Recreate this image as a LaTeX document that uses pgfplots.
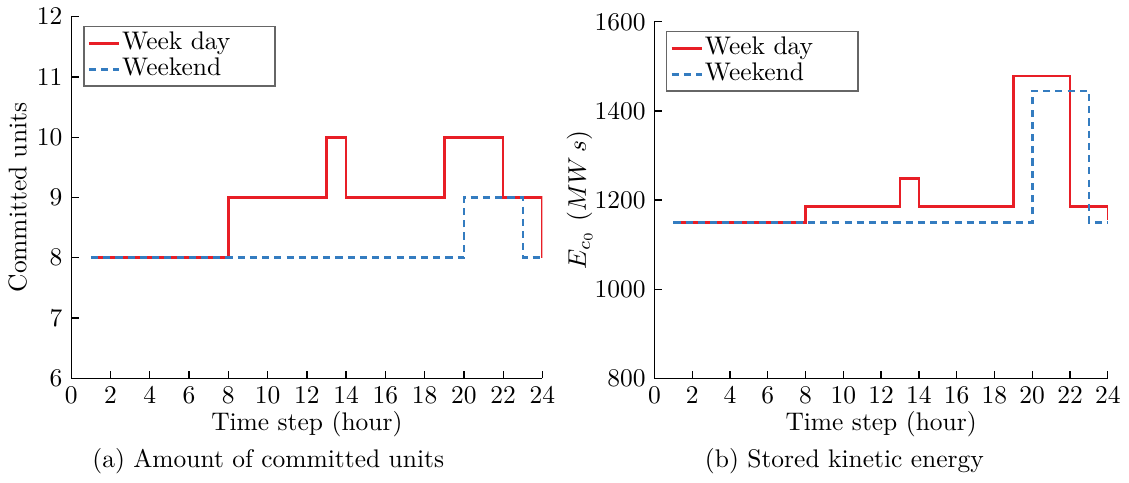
\documentclass[border=0pt]{standalone}
\usepackage{pgfplots}
\pgfplotsset{compat=1.18}
\definecolor{wdred}{RGB}{232,30,38}
\definecolor{weblue}{RGB}{52,124,192}
\begin{document}
\begin{tikzpicture}
\pgfplotsset{
  myax/.style={
    scale only axis,
    clip mode=individual,
    xmin=0, xmax=24,
    xtick={0,2,...,24},
    axis x line*=bottom, axis y line*=left,
    axis line style={-, line width=0.6pt},
    tick style={black, line width=0.5pt},
    major tick length=3pt,
    /pgf/number format/1000 sep={},
    xlabel={Time step (hour)},
    xlabel style={yshift=4pt},
    legend cell align=left,
    legend style={at={(0.025,0.975)}, anchor=north west, draw=black!60, line width=0.6pt,
      inner sep=1.5pt, row sep=0pt, font=\normalsize,
      nodes={text width=58pt, text height=7pt, text depth=2pt, inner sep=0.6pt}},
    legend image code/.code={\draw[#1] (0cm,0cm) -- (0.42cm,0cm);},
  },
  wd/.style={wdred, line width=1pt, const plot mark left},
  we/.style={weblue, line width=1pt, dash pattern=on 2.8pt off 2pt, const plot mark left},
}
\begin{axis}[myax, at={(0,0)}, width=185pt, height=142pt,
  ymin=6, ymax=12, ytick={6,7,...,12},
  ylabel={Committed units}, ylabel style={yshift=-3pt}]
\addplot[wd] coordinates {(1,8) (8,9) (13,10) (14,9) (19,10) (22,9) (24,8)};
\addlegendentry{Week day}
\addplot[we] coordinates {(1,8) (20,9) (23,8) (24,8)};
\addlegendentry{Weekend}
\node[anchor=base] at (rel axis cs:0.418,0) [yshift=-35pt] {(a) Amount of committed units};
\end{axis}
\begin{axis}[myax, at={(229pt,0pt)}, width=178pt, height=140pt,
  ymin=800, ymax=1600, ytick={800,1000,...,1600},
  ylabel={$E_{c_0}~(MW\,s)$}, ylabel style={yshift=-6pt}]
\addplot[wd] coordinates {(1,1150) (8,1185) (13,1248) (14,1185) (19,1478) (22,1185) (24,1155)};
\addlegendentry{Week day}
\addplot[we] coordinates {(1,1150) (20,1445) (23,1150) (24,1150)};
\addlegendentry{Weekend}
\node[anchor=base] at (rel axis cs:0.419,0) [yshift=-35pt] {(b) Stored kinetic energy};
\end{axis}
\end{tikzpicture}
\end{document}
